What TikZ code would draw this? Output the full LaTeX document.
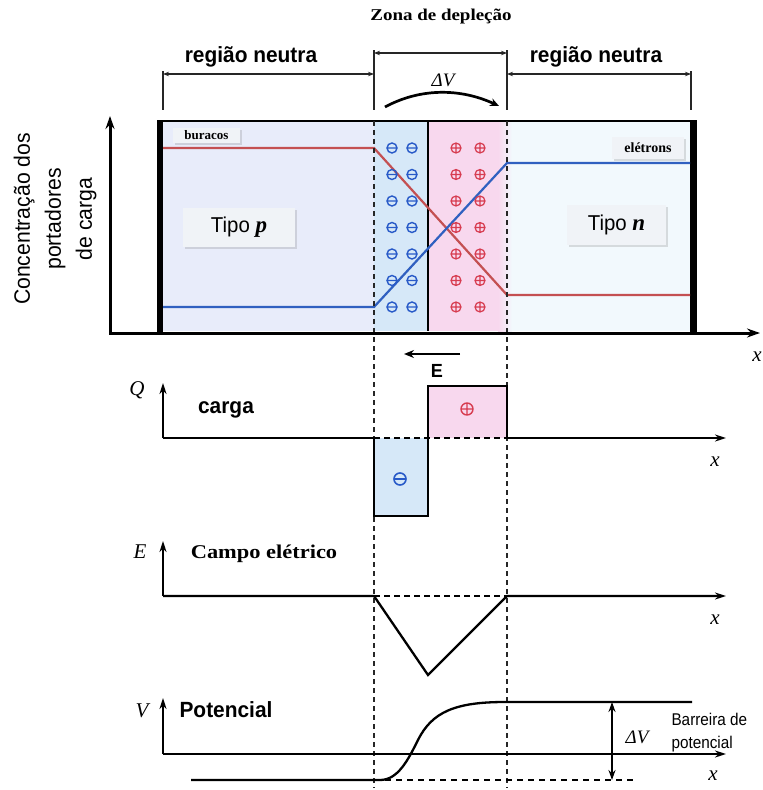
\documentclass[tikz,border=0pt]{standalone}
\usepackage{fontspec}
\setmainfont{Liberation Serif}
\newfontfamily\sansN{Liberation Sans}[FakeStretch=0.95]
\newfontfamily\sansC{Liberation Sans}[FakeStretch=0.9]
\newfontfamily\serifW{Liberation Serif}[FakeStretch=1.15]
\usetikzlibrary{arrows.meta,shadows}
\definecolor{leftfill}{RGB}{232,236,250}
\definecolor{depblue}{RGB}{214,232,248}
\definecolor{deppink}{RGB}{248,216,238}
\definecolor{rightfill}{RGB}{242,249,253}
\definecolor{redline}{RGB}{196,80,82}
\definecolor{blueline}{RGB}{48,96,192}
\definecolor{minuscol}{RGB}{40,90,200}
\definecolor{pluscol}{RGB}{215,60,80}
\definecolor{lblfill}{RGB}{240,243,247}
\tikzset{
  dimline/.style={line width=1.2pt, draw=black!85},
  dimarrow/.style={dimline, {Stealth[length=6pt,width=4.5pt]}-{Stealth[length=6pt,width=4.5pt]}},
  plotaxis/.style={line width=2.3pt, -{Stealth[length=11pt,width=7pt]}},
  dashv/.style={dash pattern=on 5pt off 4pt, line width=1.2pt, draw=black!85},
  dashaxis/.style={dash pattern=on 6pt off 4pt, line width=2.3pt},
  plotline/.style={line width=2.3pt, line join=miter},
  lblbox/.style={fill=lblfill, inner sep=0pt, drop shadow={shadow xshift=1.5pt, shadow yshift=-2pt, opacity=0.25}},
  minuspic/.pic={\draw[minuscol, line width=1.4pt] (0,0) circle[radius=5pt] (-5pt,0) -- (5pt,0);},
  pluspic/.pic={\draw[pluscol, line width=1.2pt] (0,0) circle[radius=5pt] (-5pt,0) -- (5pt,0) (0,-5pt) -- (0,5pt);},
  bigminus/.pic={\draw[minuscol, line width=1.6pt] (0,0) circle[radius=6pt] (-6pt,0) -- (6pt,0);},
  bigplus/.pic={\draw[pluscol, line width=1.4pt] (0,0) circle[radius=6pt] (-6pt,0) -- (6pt,0) (0,-6pt) -- (0,6pt);},
  mathlbl/.style={font=\itshape\fontsize{21}{24}\selectfont},
  boldsans/.style={font=\sansN\bfseries\fontsize{22}{26}\selectfont}
}
\begin{document}
\begin{tikzpicture}[x=1pt,y=-1pt]
\useasboundingbox (0,0) rectangle (763,790);

% ---- top annotations
\node[font=\serifW\bfseries\fontsize{16.5}{18}\selectfont] (title) at (441,17) {Zona de depleção};
\node[boldsans, anchor=base] (rnL) at (251,62) {região neutra};
\node[boldsans, anchor=base] (rnR) at (596,62) {região neutra};
\coordinate (tA1) at (163,71); \coordinate (tA2) at (163,110);
\coordinate (tB1) at (374,50); \coordinate (tB2) at (374,110);
\coordinate (tC1) at (507,50); \coordinate (tC2) at (507,110);
\coordinate (tD1) at (691,71); \coordinate (tD2) at (691,110);
\draw[dimline] (tA1) -- (tA2) (tB1) -- (tB2) (tC1) -- (tC2) (tD1) -- (tD2);
\draw[dimarrow] (163,74) -- (374,74);
\draw[dimarrow] (374,53) -- (507,53);
\draw[dimarrow] (507,74) -- (691,74);
\node[font=\itshape\fontsize{19}{22}\selectfont] (dvtop) at (443,80) {ΔV};
\draw[line width=2.7pt, -{Stealth[length=9pt,width=8pt]}] (385,107) .. controls (420,88) and (460,88) .. (499,106);

% ---- main box
\fill[leftfill] (163,121) rectangle (374,331);
\fill[depblue] (374,121) rectangle (428,331);
\fill[deppink] (428,121) rectangle (507,331);
\fill[rightfill] (507,121) rectangle (691,331);
\shade[left color=deppink, right color=rightfill] (498,121) rectangle (512,331);
\draw[line width=1.4pt] (428,121) -- (428,331);
\draw[line width=2.4pt] (158,121) -- (697,121);
\fill (157,120) rectangle (163,333);
\fill (690,120) rectangle (697,333);

% carrier concentration lines
\draw[redline, line width=2.2pt] (163,148) -- (374,148) -- (507,295) -- (690,295);
\draw[blueline, line width=2.2pt] (163,307) -- (374,307) -- (507,163) -- (690,163);

% fixed charges
\foreach \yy in {148,174.5,201,227.5,254,280.5,307} {
  \pic at (392,\yy) {minuspic};
  \pic at (412,\yy) {minuspic};
  \pic at (456,\yy) {pluspic};
  \pic at (480,\yy) {pluspic};
}

% labels in box
\node[lblbox, minimum width=67pt, minimum height=15pt, font=\bfseries\fontsize{13}{15}\selectfont] (bur) at (206.5,135.5) {buracos};
\node[lblbox, minimum width=72pt, minimum height=22pt, font=\bfseries\fontsize{14}{16}\selectfont] (ele) at (648,148) {elétrons};
\node[lblbox, minimum width=112pt, minimum height=39pt] (tipop) at (239,227.5) {\sansN\fontsize{21.5}{24}\selectfont Tipo \fontsize{23}{24}\selectfont\rmfamily\bfseries\itshape p};
\node[lblbox, minimum width=99pt, minimum height=40pt] (tipon) at (616.5,225) {\sansN\fontsize{21.5}{24}\selectfont Tipo \fontsize{23}{24}\selectfont\rmfamily\bfseries\itshape n};

% dashed verticals
\draw[dashv] (374,121) -- (374,788);
\draw[dashv] (507,121) -- (507,788);

% concentration axes
\coordinate (cO) at (110,333);
\draw[line width=3pt, {Stealth[length=13pt,width=9pt]}-{Stealth[length=13pt,width=9pt]}] (110,116) -- (cO) -- (760,333);
\node[rotate=90, align=center, font=\sansN\fontsize{22.3}{31}\selectfont] (conc) at (55,219) {Concentração dos\\portadores\\de carga};
\node[mathlbl] (xc) at (757,357) {x};

% E field arrow
\draw[line width=2.7pt, -{Stealth[length=10pt,width=8pt]}] (460,354) -- (404,354);
\node[font=\sansN\bfseries\fontsize{19}{22}\selectfont, anchor=base] (Elbl) at (437,377) {E};

% ---- charge plot
\fill[depblue] (374,438) rectangle (428,516);
\fill[deppink] (428,386) rectangle (507,438);
\pic at (400,479) {bigminus};
\pic at (467,409) {bigplus};
\coordinate (qO) at (163,438);
\draw[plotaxis] (qO) -- (163,383);
\draw[plotline, -{Stealth[length=11pt,width=7pt]}] (qO) -- (374,438) -- (374,516) -- (428,516) -- (428,386) -- (507,386) -- (507,438) -- (726,438);
\draw[dashaxis] (374,438) -- (507,438);
\node[mathlbl] (Q) at (137,390) {Q};
\node[boldsans, anchor=base] (carga) at (226,413) {carga};
\node[mathlbl] (xq) at (715,462) {x};

% ---- field plot
\coordinate (eO) at (163,596);
\draw[plotaxis] (eO) -- (163,541);
\draw[plotline, -{Stealth[length=11pt,width=7pt]}] (eO) -- (374,596) -- (428,675) -- (507,596) -- (726,596);
\draw[dashaxis] (374,596) -- (507,596);
\node[mathlbl, anchor=base] (Ecap) at (140,558) {E};
\node[font=\serifW\bfseries\fontsize{19.5}{22}\selectfont, anchor=base] (campo) at (264,558) {Campo elétrico};
\node[mathlbl] (xe) at (715,620) {x};

% ---- potential plot
\coordinate (vO) at (163,754);
\draw[plotaxis] (vO) -- (163,698);
\draw[plotaxis] (vO) -- (726,754);
\draw[line width=2.3pt] (191,780) -- (380,780) .. controls (398,780) and (408,760) .. (418,740) .. controls (432,712) and (455,702) .. (505,702) -- (692,702);
\draw[dash pattern=on 6pt off 5pt, line width=2pt] (385,780) -- (633,780);
\draw[line width=2pt, {Stealth[length=10pt,width=7pt]}-{Stealth[length=10pt,width=7pt]}] (612,702) -- (612,780);
\node[mathlbl, anchor=base] (Vcap) at (142,717) {V};
\node[boldsans, anchor=base] (pot) at (226,717) {Potencial};
\node[font=\itshape\fontsize{19}{22}\selectfont] (dvb) at (637,737) {ΔV};
\node[font=\sansC\fontsize{17}{23}\selectfont, align=left, anchor=base west] (barr) at (668,748) {Barreira de\\potencial};
\node[mathlbl] (xv) at (713,776) {x};
\end{tikzpicture}
\end{document}
